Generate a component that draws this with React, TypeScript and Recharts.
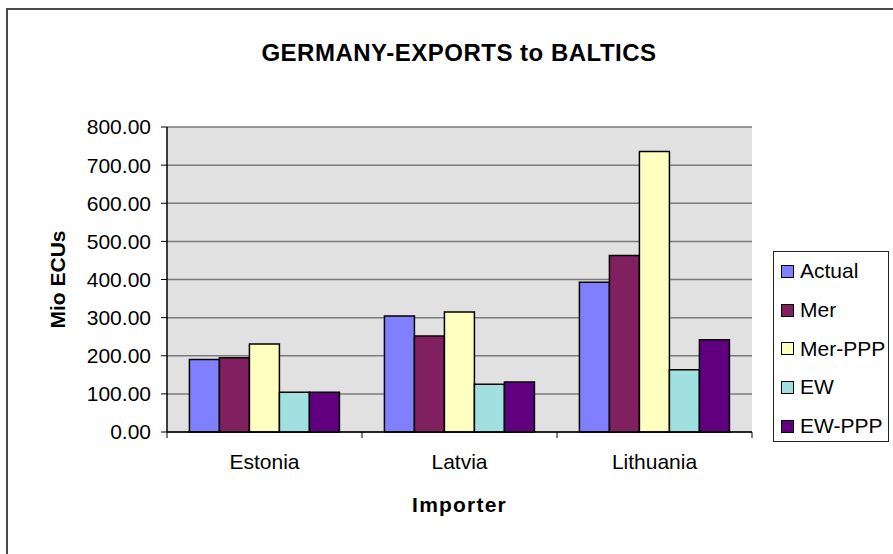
import React from "react";
import { Bar, BarChart, CartesianGrid, XAxis, YAxis } from "recharts";

const FONT = '"Liberation Sans", Arial, sans-serif';

const importers = ["Estonia", "Latvia", "Lithuania"];
const actual = [190, 304, 393];
const mer = [195, 252, 463];
const merPpp = [231, 315, 736];
const ew = [104, 125, 163];
const ewPpp = [104, 131, 242];
const yTicks = [0, 100, 200, 300, 400, 500, 600, 700, 800];

const series = [
  { key: "Actual", values: actual, color: "#8080ff" },
  { key: "Mer", values: mer, color: "#802060" },
  { key: "Mer-PPP", values: merPpp, color: "#ffffc0" },
  { key: "EW", values: ew, color: "#a0e0e0" },
  { key: "EW-PPP", values: ewPpp, color: "#600080" },
];

const data = importers.map((name, i) => {
  const row: { [k: string]: string | number } = { name };
  series.forEach((s) => {
    row[s.key] = s.values[i];
  });
  return row;
});

const X_TICK_MARGIN = 22;

// legend box drawn beside the plot, like the spreadsheet original
const LegendBox = () => (
  <div
    style={{
      position: "absolute",
      left: 773,
      top: 251,
      width: 114,
      height: 189,
      border: "1px solid #222",
      background: "#fff",
      fontFamily: FONT,
      fontSize: 21,
    }}
  >
    {series.map((s) => (
      <div
        key={s.key}
        style={{ height: 38.7, display: "flex", alignItems: "center" }}
      >
        <span
          style={{
            display: "inline-block",
            width: 11,
            height: 11,
            marginLeft: 7,
            marginRight: 6,
            background: s.color,
            border: "1.5px solid #000",
          }}
        />
        <span style={{ color: "#000" }}>{s.key}</span>
      </div>
    ))}
  </div>
);

// category label plus tick marks on the category boundaries
const CategoryTick = (props: any) => {
  const { x, y, payload, index, width } = props;
  const half =
    payload && payload.offset ? payload.offset : width / importers.length / 2;
  const axisY = y - X_TICK_MARGIN;
  const isLast = index === importers.length - 1;
  return (
    <g>
      <line x1={x - half} x2={x - half} y1={axisY} y2={axisY + 6} stroke="#000" />
      {isLast && (
        <line x1={x + half} x2={x + half} y1={axisY} y2={axisY + 6} stroke="#000" />
      )}
      <text
        x={x}
        y={y}
        dy="0.71em"
        textAnchor="middle"
        fontFamily={FONT}
        fontSize={21}
        fill="#000"
      >
        {payload.value}
      </text>
    </g>
  );
};

const renderYLabel = (props: any) => {
  const vb = props.viewBox;
  const cx = vb.x - 30;
  const cy = vb.y + vb.height / 2;
  return (
    <text
      x={cx}
      y={cy}
      transform={`rotate(-90 ${cx} ${cy})`}
      textAnchor="middle"
      dominantBaseline="central"
      fontFamily={FONT}
      fontSize={21}
      fontWeight="bold"
      fill="#000"
    >
      Mio ECUs
    </text>
  );
};

const renderXLabel = (props: any) => {
  const vb = props.viewBox;
  return (
    <text
      x={vb.x + vb.width / 2}
      y={vb.y + 80}
      textAnchor="middle"
      fontFamily={FONT}
      fontSize={21}
      fontWeight="bold"
      letterSpacing={1.2}
      fill="#000"
    >
      Importer
    </text>
  );
};

export default function App() {
  return (
    <div
      style={{
        position: "absolute",
        left: 0,
        top: 0,
        width: 893,
        height: 554,
        overflow: "hidden",
        background: "#fff",
      }}
    >
      <div
        style={{
          position: "absolute",
          left: 6,
          top: 8,
          width: 950,
          height: 600,
          border: "2px solid #4a4a4a",
        }}
      />
      <div
        style={{
          position: "absolute",
          left: 0,
          top: 41,
          width: 918,
          textAlign: "center",
          fontFamily: FONT,
          fontSize: 24,
          lineHeight: "24px",
          fontWeight: "bold",
          letterSpacing: 0.5,
          color: "#000",
        }}
      >
        GERMANY-EXPORTS to BALTICS
      </div>
      <div style={{ position: "absolute", left: 0, top: 0 }}>
        <BarChart
          width={893}
          height={554}
          data={data}
          margin={{ top: 127, right: 141, left: 87, bottom: 62 }}
          barCategoryGap="11.5%"
          barGap={0}
        >
          <CartesianGrid
            vertical={false}
            fill="#e1e1e1"
            fillOpacity={1}
            stroke="#7a7a7a"
            strokeWidth={1.5}
          />
          <XAxis
            dataKey="name"
            height={60}
            tickLine={false}
            tickSize={0}
            tickMargin={X_TICK_MARGIN}
            axisLine={{ stroke: "#000", strokeWidth: 1.5 }}
            tick={<CategoryTick />}
            label={renderXLabel}
          />
          <YAxis
            width={80}
            domain={[0, 800]}
            ticks={yTicks}
            interval={0}
            tickFormatter={(v: number) => v.toFixed(2)}
            tickSize={6}
            tickMargin={10}
            tickLine={{ stroke: "#000" }}
            axisLine={{ stroke: "#000", strokeWidth: 1.5 }}
            tick={{ fontFamily: FONT, fontSize: 21, fill: "#000" }}
            label={renderYLabel}
          />
          {series.map((s) => (
            <Bar
              key={s.key}
              dataKey={s.key}
              fill={s.color}
              stroke="#000"
              strokeWidth={1.5}
              isAnimationActive={false}
            />
          ))}
        </BarChart>
      </div>
      <LegendBox />
    </div>
  );
}
